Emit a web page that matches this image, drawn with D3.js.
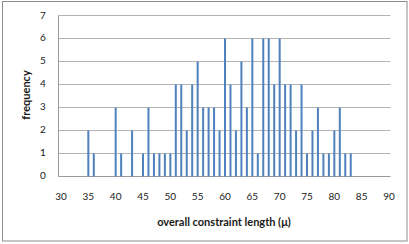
<!DOCTYPE html>
<html>
<head>
<meta charset="utf-8">
<script src="https://cdn.jsdelivr.net/npm/d3@7"></script>
<style>
  body { margin: 0; background: #fff; }
  text { font-family: Lato, "Liberation Sans", sans-serif; fill: #1a1a1a; }
</style>
</head>
<body>
<div id="chart"></div>
<script>
// lengths 35..83, frequency
var lengths = d3.range(35, 84);
var freqs = [2, 1, 0, 0, 0, 3, 1, 0, 2, 0,
             1, 3, 1, 1, 1, 1, 4, 4, 2, 4,
             5, 3, 3, 3, 2, 6, 4, 2, 5, 3,
             6, 1, 6, 6, 4, 6, 4, 4, 2, 4,
             1, 2, 3, 1, 1, 2, 3, 1, 1];
var xTicks = d3.range(30, 91, 5);
var yTicks = d3.range(0, 8);

var width = 409, height = 244;

var svg = d3.select("#chart").append("svg")
    .attr("width", width)
    .attr("height", height);

// chart border
svg.append("rect")
    .attr("x", 2.5).attr("y", 1.5)
    .attr("width", 404.5).attr("height", 239.5)
    .attr("fill", "none")
    .attr("stroke", "#8c8c8c")
    .attr("stroke-width", 1);

var x = d3.scaleLinear().domain([30, 90]).range([61, 389]);
var y = d3.scaleLinear().domain([0, 7]).range([175.5, 15]);

var plotLeft = 58.5, plotRight = 390.5;

// gridlines
svg.append("g")
  .selectAll("line")
  .data(yTicks)
  .enter()
    .append("line")
    .attr("x1", plotLeft).attr("x2", plotRight)
    .attr("y1", function(d) { return Math.round(y(d)) + 0.5; })
    .attr("y2", function(d) { return Math.round(y(d)) + 0.5; })
    .attr("stroke", function(d) { return d == 0 ? "#9a9a9a" : "#b4b4b4"; })
    .attr("stroke-width", 1);

// left axis line
svg.append("line")
    .attr("x1", plotLeft).attr("x2", plotLeft)
    .attr("y1", Math.round(y(7)) + 0.5).attr("y2", Math.round(y(0)) + 0.5)
    .attr("stroke", "#9a9a9a");

// bars
svg.append("g")
  .selectAll("rect")
  .data(lengths.map(function(d, i) { return {len: d, f: freqs[i]}; })
                .filter(function(d) { return d.f > 0; }))
  .enter()
    .append("rect")
    .attr("x", function(d) { return x(d.len) - 1; })
    .attr("width", 2)
    .attr("y", function(d) { return Math.round(y(d.f)) + 0.5; })
    .attr("height", function(d) { return Math.round(y(0)) - Math.round(y(d.f)); })
    .attr("fill", "#4f81bd");

// y tick labels
svg.append("g")
  .selectAll("text")
  .data(yTicks)
  .enter()
    .append("text")
    .attr("x", 43)
    .attr("y", function(d) { return y(d); })
    .attr("dy", "0.35em")
    .attr("text-anchor", "middle")
    .attr("font-size", 10)
    .text(function(d) { return d; });

// x tick labels
svg.append("g")
  .selectAll("text")
  .data(xTicks)
  .enter()
    .append("text")
    .attr("x", function(d) { return x(d); })
    .attr("y", 196)
    .attr("dy", "0.35em")
    .attr("text-anchor", "middle")
    .attr("font-size", 10)
    .text(function(d) { return d; });

// axis titles
svg.append("text")
    .attr("x", 224).attr("y", 222)
    .attr("dy", "0.35em")
    .attr("text-anchor", "middle")
    .attr("font-size", 11)
    .attr("font-weight", "bold")
    .text("overall constraint length (μ)");

svg.append("text")
    .attr("transform", "translate(26,95) rotate(-90)")
    .attr("dy", "0.35em")
    .attr("text-anchor", "middle")
    .attr("font-size", 11)
    .attr("font-weight", "bold")
    .text("frequency");
</script>
</body>
</html>
